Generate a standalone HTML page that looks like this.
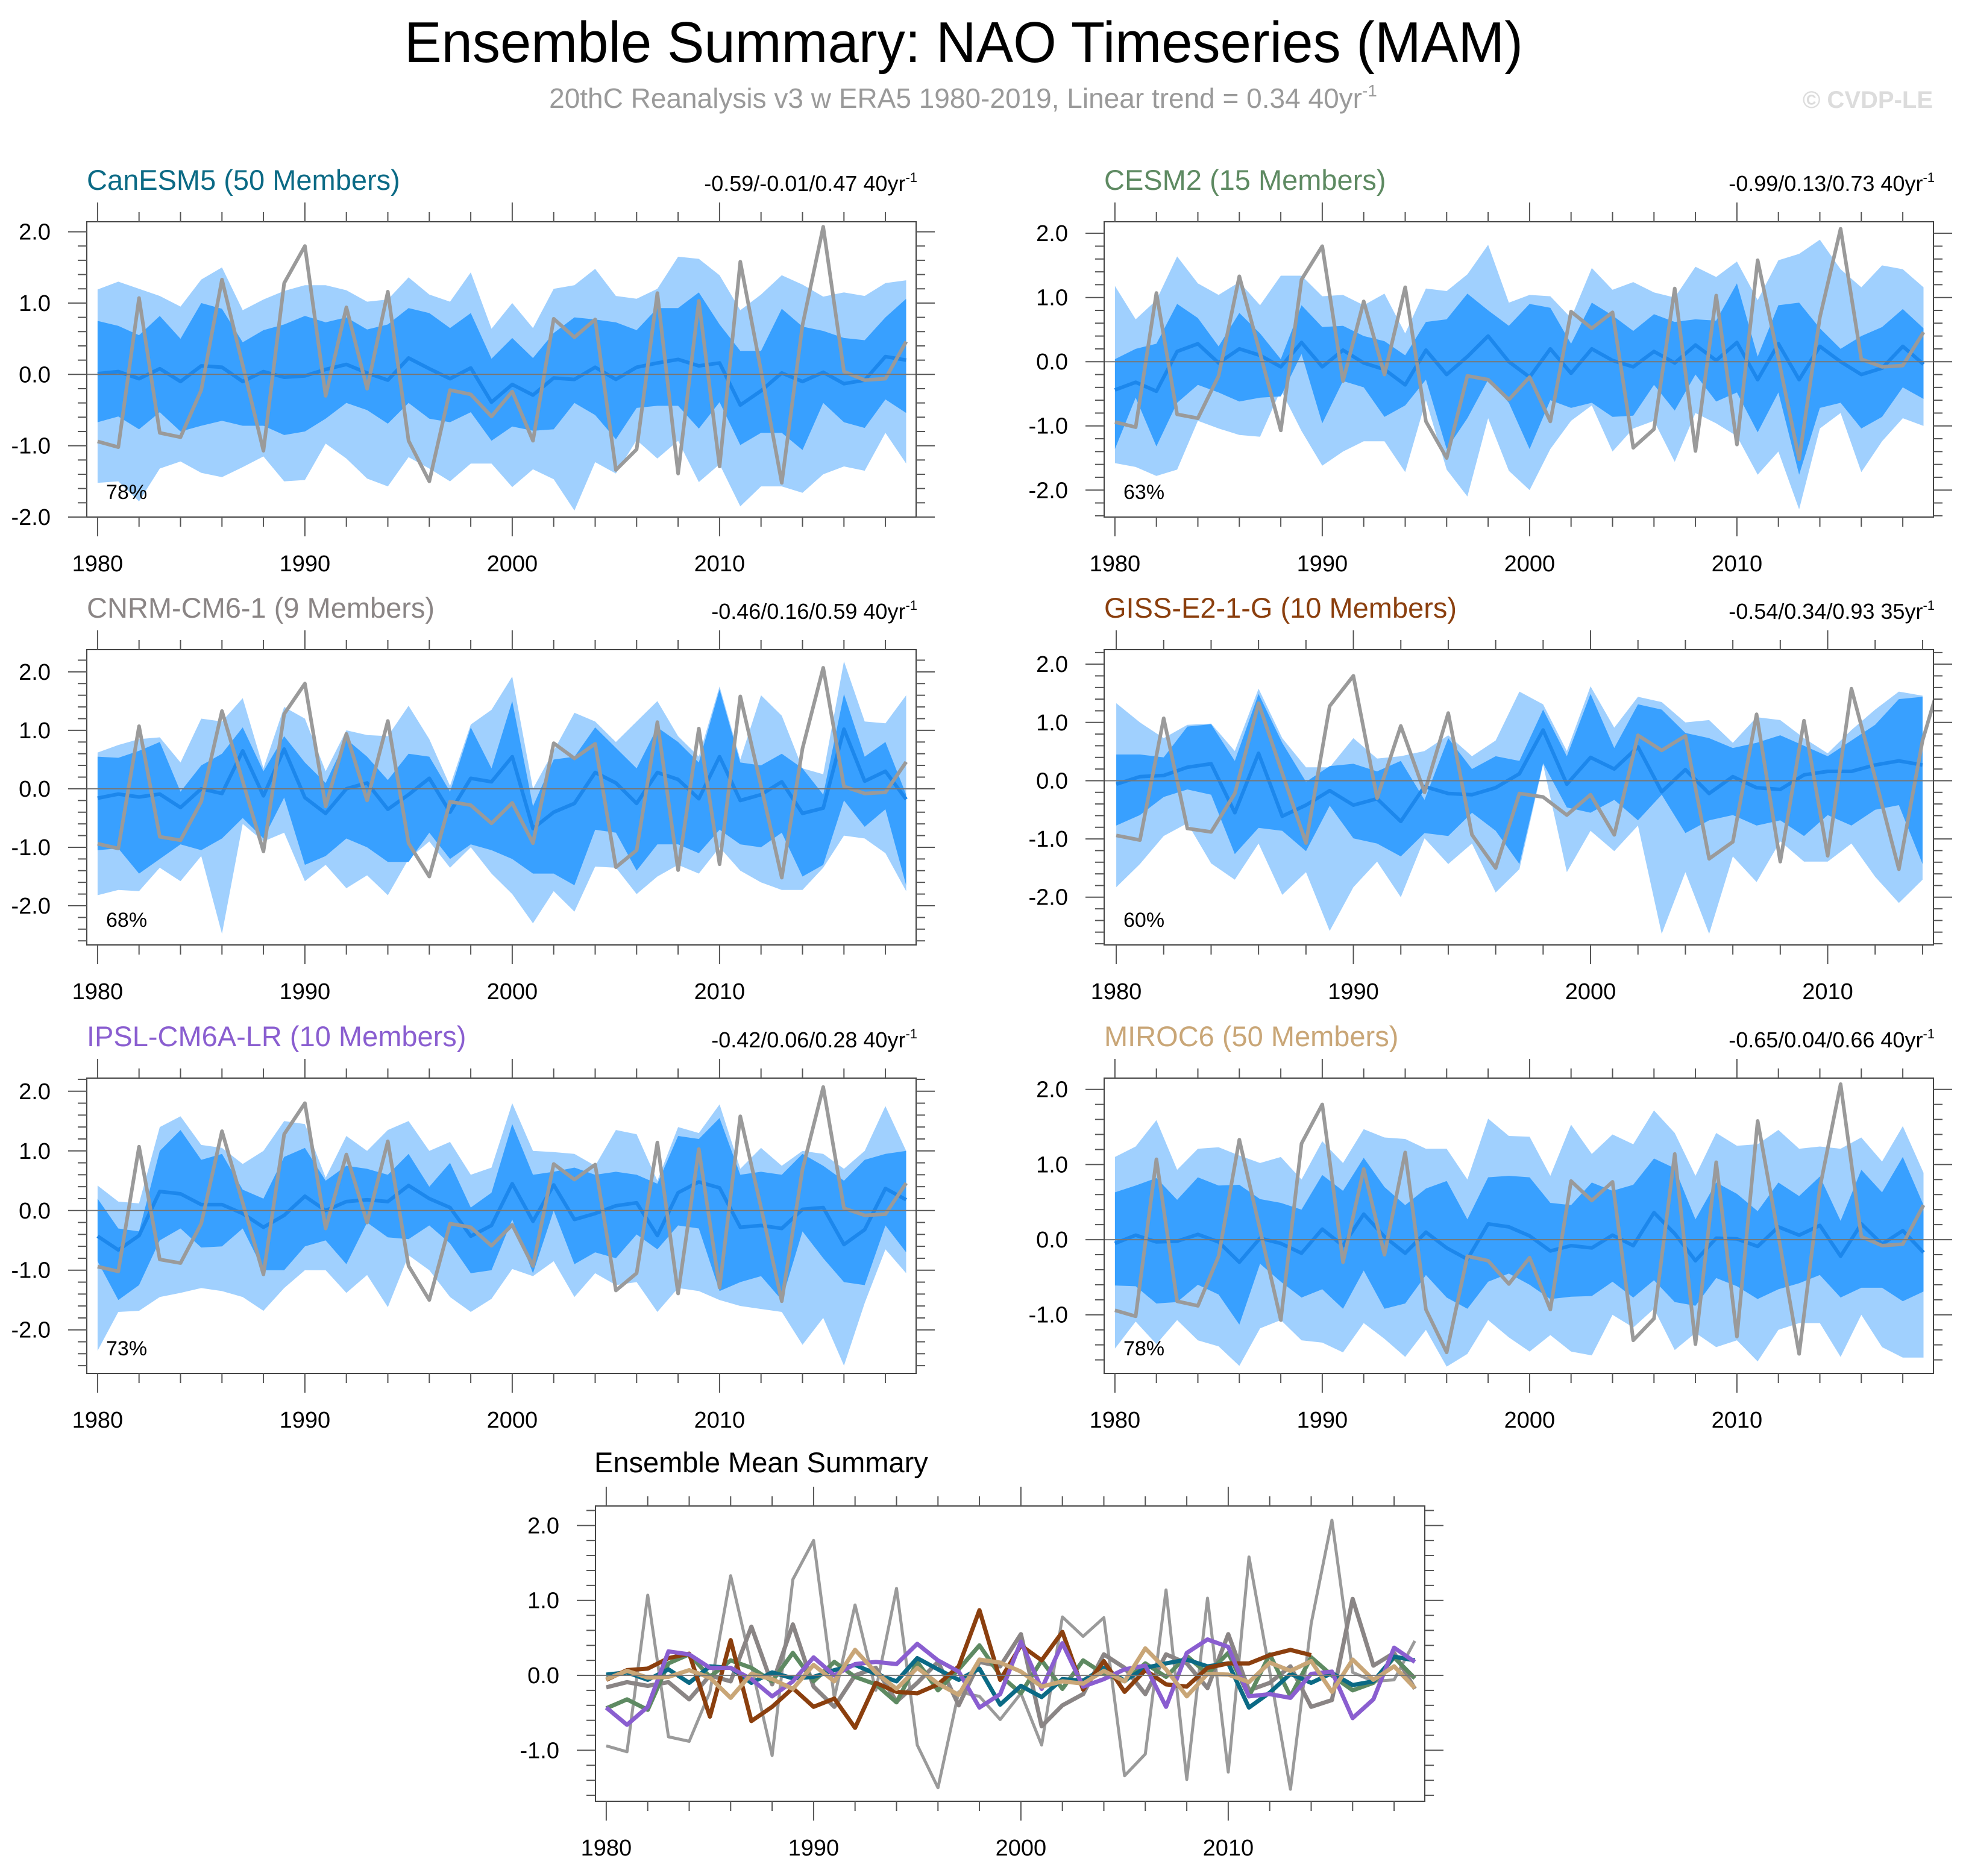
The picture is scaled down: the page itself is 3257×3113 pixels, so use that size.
<!DOCTYPE html>
<html><head><meta charset="utf-8"><title>Ensemble Summary: NAO Timeseries (MAM)</title>
<style>
html,body{margin:0;padding:0;background:#fff;}
svg{display:block;font-family:"Liberation Sans",Arial,sans-serif;}
</style></head>
<body>
<svg id="chart" xmlns="http://www.w3.org/2000/svg" width="3257" height="3113" viewBox="0 0 3257 3113">
<rect x="0" y="0" width="3257" height="3113" fill="#fff"/>
<text x="1599" y="103" text-anchor="middle" font-size="96" fill="#000" textLength="1856" lengthAdjust="spacingAndGlyphs">Ensemble Summary: NAO Timeseries (MAM)</text>
<text x="1598" y="179" text-anchor="middle" font-size="46" fill="#9a9a9a">20thC Reanalysis v3 w ERA5 1980-2019, Linear trend = 0.34 40yr<tspan font-size="28" dy="-19">-1</tspan></text>
<text x="3207" y="179" text-anchor="end" font-size="40" font-weight="bold" fill="#dcdcdc">© CVDP-LE</text>
<defs id="defs"></defs>
</svg>
<script>
const years = [1980,1981,1982,1983,1984,1985,1986,1987,1988,1989,1990,1991,1992,1993,1994,1995,1996,1997,1998,1999,2000,2001,2002,2003,2004,2005,2006,2007,2008,2009,2010,2011,2012,2013,2014,2015,2016,2017,2018,2019];
const obsValues = [-0.94,-1.02,1.07,-0.82,-0.88,-0.22,1.33,0.13,-1.07,1.28,1.8,-0.3,0.94,-0.2,1.16,-0.93,-1.5,-0.22,-0.28,-0.59,-0.24,-0.93,0.78,0.52,0.77,-1.34,-1.05,1.14,-1.39,1.03,-1.29,1.58,0.05,-1.52,0.69,2.07,0.04,-0.08,-0.06,0.46];

const canLH = [1.19,1.3,1.2,1.1,0.95,1.33,1.5,0.9,1.05,1.17,1.25,1.25,1.18,1.02,1.05,1.36,1.12,1.02,1.43,0.64,1.0,0.65,1.2,1.25,1.48,1.1,1.06,1.2,1.65,1.62,1.39,0.9,1.12,1.39,1.26,1.09,1.15,1.1,1.28,1.32];
const canDH = [0.75,0.68,0.55,0.82,0.5,1.0,0.92,0.45,0.62,0.7,0.82,0.73,0.8,0.63,0.7,0.93,0.86,0.65,0.86,0.22,0.51,0.23,0.58,0.8,0.77,0.73,0.62,0.93,0.93,1.15,0.7,0.33,0.33,0.92,0.67,0.61,0.51,0.48,0.8,1.06];
const canM = [0.01,0.04,-0.06,0.08,-0.1,0.12,0.1,-0.1,0.04,-0.04,-0.02,0.07,0.14,0.02,-0.08,0.23,0.08,-0.06,0.09,-0.39,-0.14,-0.29,-0.05,-0.07,0.1,-0.07,0.1,0.16,0.21,0.12,0.16,-0.43,-0.23,0.02,-0.1,0.03,-0.13,-0.08,0.25,0.2];
const canDL = [-0.67,-0.59,-0.77,-0.53,-0.8,-0.72,-0.65,-0.72,-0.72,-0.85,-0.8,-0.62,-0.4,-0.5,-0.69,-0.4,-0.62,-0.67,-0.53,-0.93,-0.73,-0.79,-0.77,-0.4,-0.57,-0.91,-0.47,-0.44,-0.44,-0.76,-0.39,-0.99,-0.82,-0.82,-1.06,-0.4,-0.67,-0.75,-0.35,-0.54];
const canLL = [-1.52,-1.5,-1.78,-1.32,-1.22,-1.38,-1.44,-1.3,-1.15,-1.5,-1.48,-0.97,-1.18,-1.46,-1.57,-1.16,-1.32,-1.5,-1.25,-1.25,-1.58,-1.33,-1.47,-1.91,-1.23,-1.39,-0.92,-1.18,-0.93,-1.51,-1.26,-1.85,-1.57,-1.57,-1.66,-1.4,-1.29,-1.35,-0.82,-1.25];

const cesLH = [1.18,0.66,0.96,1.64,1.22,1.04,1.24,0.88,1.34,1.34,1.02,1.04,0.88,1.06,0.44,1.14,1.1,1.36,1.82,0.92,1.04,1.02,0.68,1.46,1.12,1.24,1.08,1.0,1.48,1.32,1.56,0.96,1.58,1.68,1.9,1.44,1.16,1.5,1.44,1.16];
const cesDH = [0.04,0.2,0.28,0.9,0.68,0.24,0.76,0.44,0.04,0.88,0.54,0.56,0.4,0.32,0.1,0.62,0.66,1.06,0.8,0.56,0.9,0.84,0.28,0.92,0.72,0.48,0.74,0.62,0.66,0.64,1.22,0.08,0.88,0.92,0.52,0.2,0.4,0.54,0.82,0.52];
const cesM = [-0.44,-0.32,-0.46,0.16,0.28,-0.02,0.2,0.1,-0.08,0.3,-0.08,0.18,-0.02,-0.12,-0.36,0.18,-0.2,0.08,0.4,0.0,-0.24,0.2,-0.18,0.2,0.02,-0.08,0.16,-0.02,0.26,0.02,0.3,-0.28,0.28,-0.28,0.24,0.0,-0.2,-0.1,0.24,-0.04];
const cesDL = [-1.36,-0.56,-1.32,-0.64,-0.36,-0.48,-0.62,-0.56,-0.54,0.12,-0.96,-0.3,-0.4,-0.86,-0.68,-0.28,-1.36,-0.88,-0.28,-0.64,-1.36,-0.6,-0.72,-0.64,-0.86,-0.84,-0.36,-0.76,-0.2,-0.62,-0.48,-1.1,-0.48,-1.76,-0.72,-0.64,-1.04,-0.86,-0.4,-0.58];
const cesLL = [-1.58,-1.64,-1.78,-1.68,-0.92,-1.04,-1.14,-1.17,-0.44,-1.08,-1.62,-1.4,-1.24,-1.24,-1.72,-0.6,-1.68,-2.1,-0.88,-1.7,-2.0,-1.36,-0.92,-0.68,-1.4,-1.04,-0.92,-1.56,-0.8,-0.96,-1.16,-1.76,-1.4,-2.3,-1.04,-0.8,-1.72,-1.24,-0.88,-1.0];

const cnrmLH = [0.62,0.75,0.85,0.88,0.45,1.2,1.15,1.55,0.35,1.4,1.2,0.3,1.0,0.92,0.9,1.42,0.85,0.05,1.1,1.35,1.92,0.0,0.65,1.3,1.15,0.8,1.15,1.5,0.9,0.55,1.75,0.5,1.6,1.25,0.35,0.25,2.18,1.15,1.12,1.6];
const cnrmDH = [0.55,0.53,0.65,0.8,-0.05,0.4,0.6,1.05,0.3,0.9,0.45,0.1,0.85,0.55,0.15,0.6,0.55,-0.05,1.05,0.35,1.5,-0.3,0.5,0.55,1.05,0.7,0.35,1.05,0.8,0.45,1.7,0.45,0.4,0.6,0.35,-0.1,1.62,0.55,0.8,-0.1];
const cnrmM = [-0.16,-0.09,-0.14,-0.09,-0.32,0.0,-0.08,0.65,-0.12,0.68,-0.15,-0.42,0.0,0.1,-0.35,-0.1,0.18,-0.4,0.18,0.12,0.55,-0.68,-0.4,-0.25,0.28,0.1,-0.25,0.28,0.16,-0.17,0.55,-0.2,-0.1,0.12,-0.42,-0.33,1.02,0.13,0.3,-0.18];
const cnrmDL = [-1.05,-1.02,-1.45,-1.2,-0.95,-1.05,-0.85,-0.5,-0.85,-0.15,-1.3,-1.15,-0.85,-1.0,-1.25,-1.25,-0.75,-1.2,-0.95,-1.05,-1.2,-1.45,-1.45,-1.65,-0.7,-0.75,-1.4,-0.95,-0.95,-1.1,-0.7,-0.95,-1.0,-0.75,-1.5,-1.3,-0.2,-0.65,-0.35,-1.65];
const cnrmLL = [-1.82,-1.73,-1.75,-1.35,-1.58,-1.15,-2.48,-0.6,-0.9,-0.75,-1.58,-1.3,-1.7,-1.48,-1.82,-1.2,-0.9,-1.35,-1.0,-1.45,-1.8,-2.3,-1.75,-2.1,-1.33,-1.35,-1.8,-1.5,-1.3,-1.45,-1.0,-1.4,-1.6,-1.73,-1.73,-1.35,-0.8,-0.85,-1.1,-1.75];

const gissYears = [1980,1981,1982,1983,1984,1985,1986,1987,1988,1989,1990,1991,1992,1993,1994,1995,1996,1997,1998,1999,2000,2001,2002,2003,2004,2005,2006,2007,2008,2009,2010,2011,2012,2013,2014];
const gissLH = [1.33,1.0,0.73,0.96,0.98,0.51,1.58,0.73,0.23,0.23,0.73,0.38,0.42,0.51,0.78,0.42,0.69,1.53,1.31,0.51,1.62,0.91,1.44,1.35,1.0,1.04,0.65,1.09,1.04,0.73,0.47,0.87,1.22,1.53,1.46];
const gissDH = [0.45,0.45,0.4,0.93,0.97,0.34,1.49,0.65,-0.02,0.25,0.29,0.16,0.34,-0.33,0.73,0.2,0.42,0.34,1.22,0.42,1.49,0.56,1.31,1.22,0.82,0.73,0.56,0.65,0.78,0.6,0.42,0.69,0.96,1.4,1.44];
const gissM = [-0.06,0.07,0.09,0.23,0.29,-0.55,0.47,-0.61,-0.42,-0.17,-0.42,-0.31,-0.7,-0.1,-0.22,-0.24,-0.12,0.12,0.87,-0.06,0.4,0.2,0.58,-0.19,0.19,-0.22,0.07,-0.12,-0.15,0.1,0.16,0.16,0.27,0.34,0.27];
const gissDL = [-0.77,-0.59,-0.28,-0.15,-0.24,-1.26,-0.81,-0.86,-1.21,-0.43,-0.99,-1.08,-1.3,-0.9,-0.95,-0.55,-0.86,-1.43,0.3,-0.46,-0.55,-0.33,-0.68,-0.24,-0.9,-0.68,-0.59,-0.77,-0.68,-0.95,-0.59,-0.77,-0.5,-0.42,-1.43];
const gissLL = [-1.83,-1.43,-0.95,-0.73,-1.42,-1.7,-1.08,-1.96,-1.57,-2.58,-1.83,-1.39,-2.0,-0.99,-1.43,-1.08,-1.92,-1.52,0.28,-1.57,-0.86,-1.21,-0.77,-2.63,-1.57,-2.63,-1.3,-1.74,-1.04,-1.39,-1.39,-1.08,-1.65,-2.1,-1.7];

const ipslLH = [0.42,0.15,0.12,1.4,1.58,1.1,1.05,0.78,1.0,1.5,1.45,0.55,1.25,1.0,1.35,1.5,1.0,1.15,0.6,0.72,1.8,1.0,0.98,0.95,0.75,1.35,1.28,0.5,1.4,1.3,1.78,0.7,1.05,0.75,1.0,0.95,0.7,1.0,1.75,1.0];
const ipslDH = [0.2,-0.3,-0.35,1.0,1.35,0.85,0.95,0.35,0.2,0.9,1.05,0.5,0.75,0.7,0.6,0.95,0.4,0.8,0.05,0.3,1.45,0.6,0.65,0.72,0.6,0.65,0.6,0.45,1.25,1.2,1.55,0.6,0.65,0.6,0.95,0.75,0.5,0.85,0.95,1.0];
const ipslM = [-0.43,-0.66,-0.42,0.32,0.28,0.1,0.1,-0.05,-0.28,-0.08,0.24,0.0,0.15,0.18,0.15,0.42,0.2,0.05,-0.43,-0.25,0.45,-0.18,0.43,-0.15,-0.05,0.08,0.13,-0.42,0.3,0.48,0.38,-0.28,-0.25,-0.3,0.02,0.05,-0.57,-0.32,0.37,0.18];
const ipslDL = [-0.85,-1.5,-1.25,-0.5,-0.3,-0.62,-0.6,-0.3,-1.0,-1.0,-0.6,-0.5,-0.9,-0.2,-0.45,-0.48,-0.25,-0.55,-1.05,-1.0,-0.15,-1.05,0.0,-0.9,-0.7,-0.8,-0.4,-0.65,-0.25,-0.3,-1.35,-1.2,-1.1,-1.5,-0.35,-0.8,-1.2,-1.25,-0.25,-0.7];
const ipslLL = [-2.35,-1.7,-1.68,-1.45,-1.38,-1.3,-1.35,-1.45,-1.68,-1.3,-1.0,-1.0,-1.38,-1.08,-1.62,-0.75,-1.0,-1.45,-1.7,-1.48,-0.98,-1.1,-0.85,-1.45,-1.05,-1.25,-1.2,-1.7,-1.3,-1.35,-1.5,-1.6,-1.65,-1.7,-2.25,-1.8,-2.6,-1.55,-0.65,-1.05];

const mirocLH = [1.1,1.24,1.59,0.93,1.21,1.23,1.12,1.02,1.1,0.8,1.31,1.02,1.47,1.36,1.34,1.21,1.21,0.8,1.61,1.38,1.37,0.85,1.53,1.14,1.4,1.27,1.72,1.42,0.85,1.42,1.25,1.27,1.46,1.21,1.24,1.21,1.36,1.04,1.51,0.89];
const mirocDH = [0.63,0.72,0.82,0.53,0.83,0.72,0.73,0.54,0.49,0.4,0.86,0.65,1.09,0.7,0.46,0.68,0.78,0.27,0.83,0.85,0.83,0.49,0.46,0.76,0.65,0.73,1.08,0.95,0.27,0.76,0.61,0.38,0.76,0.58,0.84,0.25,0.93,0.63,1.1,0.46];
const mirocM = [-0.05,0.06,-0.03,-0.02,0.07,-0.03,-0.3,0.02,-0.05,-0.18,0.14,-0.08,0.34,0.04,-0.18,0.1,-0.11,-0.26,0.21,0.17,0.05,-0.15,-0.08,-0.11,0.06,-0.08,0.36,0.08,-0.28,0.02,0.01,-0.09,0.17,0.06,0.19,-0.22,0.21,-0.06,0.12,-0.17];
const mirocDL = [-0.61,-0.62,-0.85,-0.83,-0.6,-0.73,-1.13,-0.32,-0.56,-0.77,-0.66,-0.92,-0.41,-0.92,-0.85,-0.47,-0.77,-0.92,-0.56,-0.45,-0.6,-0.79,-0.76,-0.75,-0.56,-0.77,-0.54,-0.83,-0.88,-0.51,-0.62,-0.79,-0.66,-0.58,-0.47,-0.77,-0.64,-0.64,-0.82,-0.69];
const mirocLL = [-1.45,-1.09,-1.39,-1.07,-1.34,-1.42,-1.68,-1.18,-1.07,-1.34,-1.37,-1.5,-1.11,-1.32,-1.56,-1.2,-1.69,-1.52,-1.07,-1.3,-1.49,-1.27,-1.49,-1.54,-1.0,-1.17,-0.92,-1.47,-1.24,-1.43,-1.34,-1.62,-1.2,-1.11,-1.11,-1.56,-1.0,-1.43,-1.57,-1.57];

const yTickLabels = ['-2.0','-1.0','0.0','1.0','2.0'];
const yTickValues = [-2,-1,0,1,2];
const xTickLabels = ['1980','1990','2000','2010'];
const xTickValues = [1980,1990,2000,2010];

const NS = 'http://www.w3.org/2000/svg';
const svg = document.getElementById('chart');
const defs = document.getElementById('defs');
const W = 1376, H = 490;
const LIGHT = '#a0d0fe', DARK = '#38a0ff', MEANC = '#1c87ec', OBSC = '#9a9a9a', AXC = '#555';

function mk(tag, attrs, parent) {
  const e = document.createElementNS(NS, tag);
  for (const k in attrs) e.setAttribute(k, attrs[k]);
  parent.appendChild(e);
  return e;
}

function axes(p) {
  const sx = v => p.x + (v - p.xmin) / (p.xmax - p.xmin) * W;
  const sy = v => p.y + (p.ymax - v) / (p.ymax - p.ymin) * H;
  return {sx, sy};
}

function linePath(xs, vs, sx, sy) {
  return vs.map((v, i) => (i ? 'L' : 'M') + sx(xs[i]).toFixed(1) + ',' + sy(v).toFixed(1)).join(' ');
}

function band(xs, hi, lo, sx, sy) {
  let d = hi.map((v, i) => (i ? 'L' : 'M') + sx(xs[i]).toFixed(1) + ',' + sy(v).toFixed(1)).join(' ');
  for (let i = lo.length - 1; i >= 0; i--) d += ' L' + sx(xs[i]).toFixed(1) + ',' + sy(lo[i]).toFixed(1);
  return d + ' Z';
}

function frameAndTicks(p, g, sx, sy) {
  const zl = mk('line', {x1: p.x, x2: p.x + W, y1: sy(0), y2: sy(0), stroke: '#777', 'stroke-width': 2}, g);
  
  
  const fr = mk('rect', {x: p.x, y: p.y, width: W, height: H, fill: 'none', stroke: '#444', 'stroke-width': 2}, g);
  
  
  const tg = mk('g', {stroke: AXC, 'stroke-width': 2}, g);
  
  
  for (let yr = 1980; yr <= p.xmax; yr += 2) {
    const x = sx(yr), len = (yr % 10 === 0) ? 32 : 16;
    mk('line', {x1: x, x2: x, y1: p.y, y2: p.y - len}, tg);
    mk('line', {x1: x, x2: x, y1: p.y + H, y2: p.y + H + len}, tg);
  }
  const start = Math.ceil(p.ymin / 0.2 - 1e-6);
  const end = Math.floor(p.ymax / 0.2 + 1e-6);
  for (let k = start; k <= end; k++) {
    const v = k * 0.2, y = sy(v), major = (k % 5 === 0), len = major ? 31 : 15;
    mk('line', {x1: p.x, x2: p.x - len, y1: y, y2: y}, tg);
    mk('line', {x1: p.x + W, x2: p.x + W + len, y1: y, y2: y}, tg);
  }
  yTickValues.forEach((v, i) => {
    if (v < p.ymin - 1e-6 || v > p.ymax + 1e-6) return;
    const t = mk('text', {x: p.x - 60, y: sy(v) + 13, 'text-anchor': 'end', 'font-size': 38, fill: '#000'}, g);
    t.textContent = yTickLabels[i];
    
    
  });
  xTickValues.forEach((v, i) => {
    const t = mk('text', {x: sx(v), y: p.y + H + 90, 'text-anchor': 'middle', 'font-size': 38, fill: '#000'}, g);
    t.textContent = xTickLabels[i];
    
    
  });
}

function modelPanel(p) {
  const g = mk('g', {}, svg);
  
  
  const {sx, sy} = axes(p);
  const cp = mk('clipPath', {id: 'clip-' + p.id}, defs);
  mk('rect', {x: p.x, y: p.y, width: W, height: H}, cp);
  const data = mk('g', {'clip-path': 'url(#clip-' + p.id + ')'}, g);
  
  
  const b1 = mk('path', {d: band(p.yrs, p.lh, p.ll, sx, sy), fill: LIGHT}, data);
  
  
  const b2 = mk('path', {d: band(p.yrs, p.dh, p.dl, sx, sy), fill: DARK}, data);
  
  
  const ml = mk('path', {d: linePath(p.yrs, p.m, sx, sy), fill: 'none', stroke: MEANC, 'stroke-width': 6, 'stroke-linejoin': 'round'}, data);
  
  
  const ol = mk('path', {d: linePath(years, obsValues, sx, sy), fill: 'none', stroke: OBSC, 'stroke-width': 6, 'stroke-linejoin': 'round'}, data);
  
  
  frameAndTicks(p, g, sx, sy);
  const tt = mk('text', {x: p.x, y: p.y - 53, 'font-size': 47, fill: p.color}, g);
  tt.textContent = p.title;
  
  
  const st = mk('text', {x: p.x + W + 2, y: p.y - 51, 'text-anchor': 'end', 'font-size': 36, fill: '#000'}, g);
  st.textContent = p.stats;
  const sup = mk('tspan', {'font-size': 22, dy: -15}, st);
  sup.textContent = '-1';
  
  
  const pc = mk('text', {x: p.x + 32, y: p.y + H - 30, 'font-size': 34, fill: '#000'}, g);
  pc.textContent = p.pct;
  
  
}

modelPanel({id: 'canesm5', x: 144, y: 368, xmin: 1979.48, xmax: 2019.48, ymin: -2.0, ymax: 2.14, yrs: years, lh: canLH, dh: canDH, m: canM, dl: canDL, ll: canLL, title: 'CanESM5 (50 Members)', color: '#0b6a85', stats: '-0.59/-0.01/0.47 40yr', pct: '78%'});
modelPanel({id: 'cesm2', x: 1832, y: 368, xmin: 1979.48, xmax: 2019.48, ymin: -2.42, ymax: 2.18, yrs: years, lh: cesLH, dh: cesDH, m: cesM, dl: cesDL, ll: cesLL, title: 'CESM2 (15 Members)', color: '#5e8a62', stats: '-0.99/0.13/0.73 40yr', pct: '63%'});
modelPanel({id: 'cnrm', x: 144, y: 1078, xmin: 1979.48, xmax: 2019.48, ymin: -2.67, ymax: 2.38, yrs: years, lh: cnrmLH, dh: cnrmDH, m: cnrmM, dl: cnrmDL, ll: cnrmLL, title: 'CNRM-CM6-1 (9 Members)', color: '#8a8585', stats: '-0.46/0.16/0.59 40yr', pct: '68%'});
modelPanel({id: 'giss', x: 1832, y: 1078, xmin: 1979.49, xmax: 2014.46, ymin: -2.82, ymax: 2.25, yrs: gissYears, lh: gissLH, dh: gissDH, m: gissM, dl: gissDL, ll: gissLL, title: 'GISS-E2-1-G (10 Members)', color: '#8b3f0e', stats: '-0.54/0.34/0.93 35yr', pct: '60%'});
modelPanel({id: 'ipsl', x: 144, y: 1789, xmin: 1979.48, xmax: 2019.48, ymin: -2.73, ymax: 2.22, yrs: years, lh: ipslLH, dh: ipslDH, m: ipslM, dl: ipslDL, ll: ipslLL, title: 'IPSL-CM6A-LR (10 Members)', color: '#8a5ed0', stats: '-0.42/0.06/0.28 40yr', pct: '73%'});
modelPanel({id: 'miroc6', x: 1832, y: 1789, xmin: 1979.48, xmax: 2019.48, ymin: -1.78, ymax: 2.15, yrs: years, lh: mirocLH, dh: mirocDH, m: mirocM, dl: mirocDL, ll: mirocLL, title: 'MIROC6 (50 Members)', color: '#c9a677', stats: '-0.65/0.04/0.66 40yr', pct: '78%'});

// Ensemble mean summary panel
(function () {
  const p = {id: 'ensemble-mean-summary', x: 988, y: 2499, xmin: 1979.48, xmax: 2019.48, ymin: -1.68, ymax: 2.26};
  const g = mk('g', {}, svg);
  
  
  const {sx, sy} = axes(p);
  const cp = mk('clipPath', {id: 'clip-summary'}, defs);
  mk('rect', {x: p.x, y: p.y, width: W, height: H}, cp);
  const data = mk('g', {'clip-path': 'url(#clip-summary)'}, g);
  
  
  const ol = mk('path', {d: linePath(years, obsValues, sx, sy), fill: 'none', stroke: OBSC, 'stroke-width': 5, 'stroke-linejoin': 'round'}, data);
  
  
  const series = [
    ['cnrm-mean-line', years, cnrmM, '#8a8585'],
    ['cesm2-mean-line', years, cesM, '#5e8a62'],
    ['canesm5-mean-line', years, canM, '#0b6a85'],
    ['giss-mean-line', gissYears, gissM, '#8b3f0e'],
    ['ipsl-mean-line', years, ipslM, '#8a5ed0'],
    ['miroc6-mean-line', years, mirocM, '#c9a677']
  ];
  series.forEach(s => {
    const l = mk('path', {d: linePath(s[1], s[2], sx, sy), fill: 'none', stroke: s[3], 'stroke-width': 7, 'stroke-linejoin': 'round'}, data);
    
    
  });
  frameAndTicks(p, g, sx, sy);
  const tt = mk('text', {x: 986, y: 2443, 'font-size': 47, fill: '#000'}, g);
  tt.textContent = 'Ensemble Mean Summary';
  
  
})();
</script>
</body></html>
